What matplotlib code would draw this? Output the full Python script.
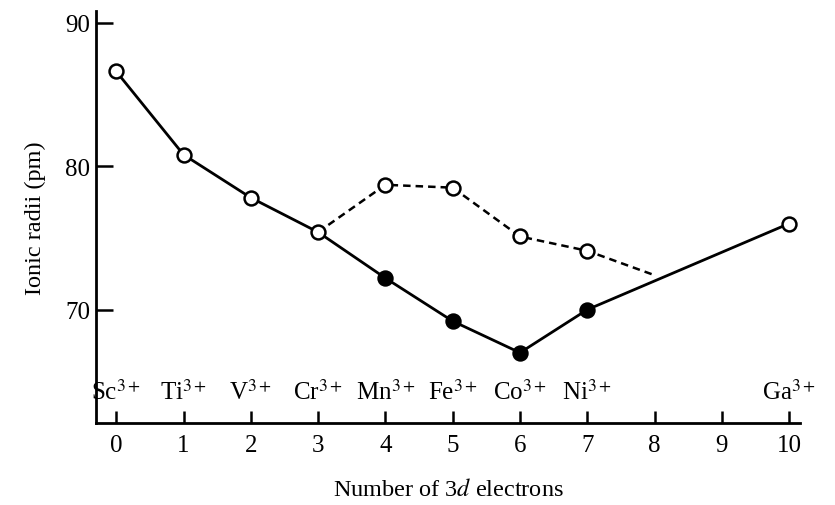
import matplotlib
matplotlib.use('Agg')
import matplotlib.pyplot as plt

plt.rcParams['font.family'] = ['Liberation Serif', 'DejaVu Serif']
plt.rcParams['mathtext.fontset'] = 'stix'

# data
ions = ['Sc', 'Ti', 'V', 'Cr', 'Mn', 'Fe', 'Co', 'Ni', 'Ga']
n_d = [0, 1, 2, 3, 4, 5, 6, 7, 10]
low_spin = [86.6, 80.8, 77.8, 75.4, 72.2, 69.2, 67.0, 70.0, 76.0]
filled = [False, False, False, False, True, True, True, True, False]
hs_x = [3, 4, 5, 6, 7, 8]
high_spin = [75.4, 78.7, 78.5, 75.1, 74.1, 72.4]

fig = plt.figure(figsize=(8.35, 5.06), dpi=100)
ax = fig.add_axes([0.115, 0.162, 0.843, 0.814])

ax.plot(n_d, low_spin, color='black', lw=2, zorder=2)
ax.plot(hs_x, high_spin, color='black', lw=1.8, ls=(0, (3, 2)), zorder=1)

for x, y, f in zip(n_d, low_spin, filled):
    ax.plot(x, y, 'o', ms=10, mew=1.8, mec='black',
            mfc='black' if f else 'white', zorder=3)
for x, y in zip(hs_x[1:-1], high_spin[1:-1]):
    ax.plot(x, y, 'o', ms=10, mew=1.8, mec='black', mfc='white', zorder=3)

for name, x in zip(ions, n_d):
    ax.text(x, 64.3, name + r'$^{3+}$', ha='center', va='center', fontsize=18)

ax.set_xlim(-0.3, 10.16)
ax.set_ylim(62.1, 90.8)
ax.set_xticks(range(0, 11))
ax.set_yticks([70, 80, 90])
ax.tick_params(axis='x', direction='in', length=9, width=1.8, labelsize=18, pad=8)
ax.tick_params(axis='y', direction='in', length=12, width=1.8, labelsize=18, pad=4)
for s in ['top', 'right']:
    ax.spines[s].set_visible(False)
for s in ['left', 'bottom']:
    ax.spines[s].set_linewidth(2)

ax.set_ylabel('Ionic radii (pm)', fontsize=17.5, labelpad=14)
ax.set_xlabel(r'Number of 3$\it{d}$ electrons', fontsize=17.5, labelpad=16)

fig.savefig('out.png', dpi=100)
